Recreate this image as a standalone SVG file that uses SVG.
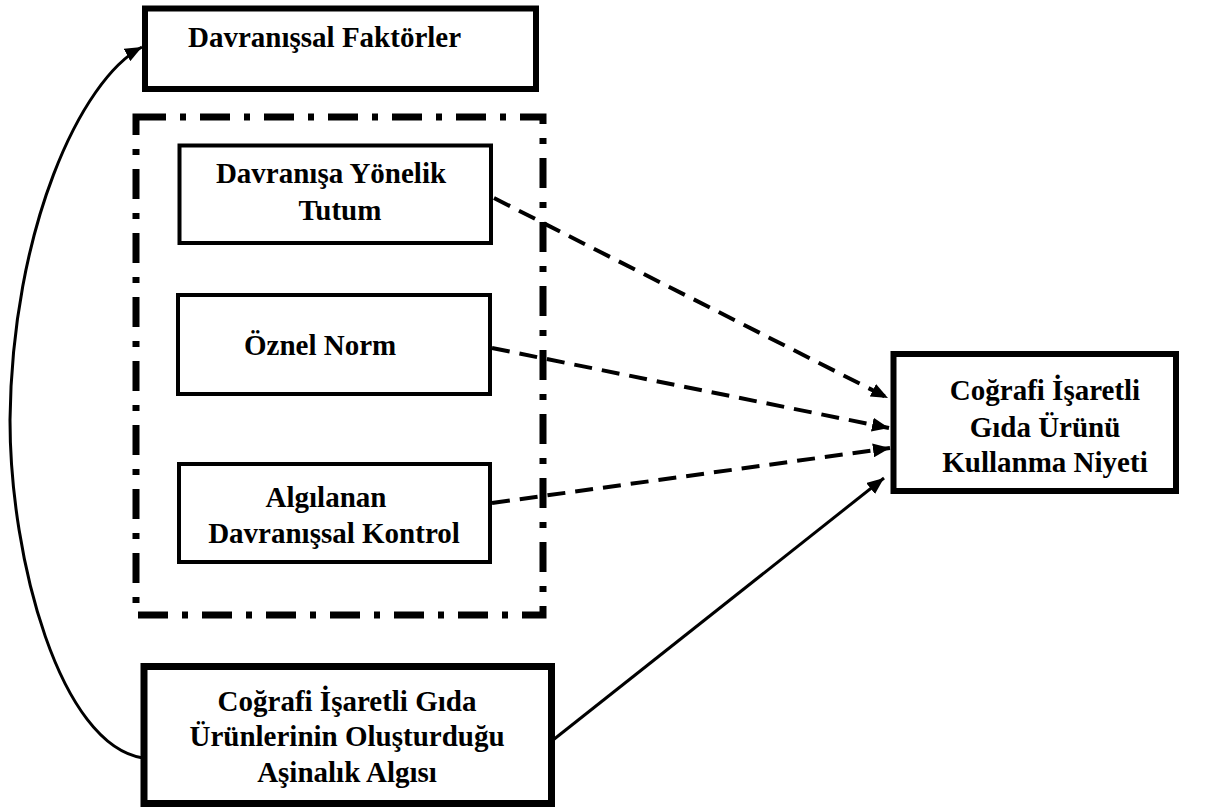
<svg xmlns="http://www.w3.org/2000/svg" width="1221" height="812" viewBox="0 0 1221 812">
<style>
.box{fill:#fff;stroke:#000}
.t{font-family:"Liberation Serif","Times New Roman",serif;font-weight:bold;font-size:29px;fill:#000}
.c{text-anchor:middle}
.dash{fill:none;stroke:#000;stroke-width:4;stroke-dasharray:18 10}
.solid{fill:none;stroke:#000;stroke-width:3}
</style>
<defs>
<marker id="ah" markerUnits="userSpaceOnUse" markerWidth="18" markerHeight="14" refX="17" refY="7" orient="auto">
<path d="M0,0 L17,7 L0,14 z" fill="#000"/>
</marker>
</defs>
<rect width="1221" height="812" fill="#fff"/>
<g id="group-box">
<rect x="136" y="117" width="407" height="498" fill="none" stroke="#000" stroke-width="7" stroke-dasharray="30 14 6 14"/>
</g>
<g id="node-faktorler">
<rect class="box" x="145" y="8.5" width="391" height="80.5" stroke-width="6"/>
<text class="t" x="188" y="47">Davranışsal Faktörler</text>
</g>
<g id="node-tutum">
<rect class="box" x="179.5" y="145.5" width="311.5" height="97.5" stroke-width="4"/>
<text class="t c" x="331" y="183">Davranışa Yönelik</text>
<text class="t c" x="340" y="220">Tutum</text>
</g>
<g id="node-norm">
<rect class="box" x="178" y="295" width="312" height="99" stroke-width="4"/>
<text class="t" x="244" y="355">Öznel Norm</text>
</g>
<g id="node-kontrol">
<rect class="box" x="179" y="464" width="311" height="98" stroke-width="4"/>
<text class="t c" x="326" y="507">Algılanan</text>
<text class="t c" x="334" y="543">Davranışsal Kontrol</text>
</g>
<g id="node-niyet">
<rect class="box" x="893.5" y="354" width="282.5" height="137" stroke-width="6"/>
<text class="t c" x="1045" y="400">Coğrafi İşaretli</text>
<text class="t c" x="1045" y="437">Gıda Ürünü</text>
<text class="t c" x="1045" y="472">Kullanma Niyeti</text>
</g>
<g id="node-asinalik">
<rect class="box" x="144" y="666.5" width="407.5" height="137" stroke-width="7"/>
<text class="t c" x="347" y="711">Coğrafi İşaretli Gıda</text>
<text class="t c" x="347" y="746">Ürünlerinin Oluşturduğu</text>
<text class="t c" x="347" y="782">Aşinalık Algısı</text>
</g>
<g id="connectors">
<line class="dash" x1="494" y1="198" x2="888" y2="398" marker-end="url(#ah)"/>
<line class="dash" x1="492" y1="348" x2="889" y2="428" marker-end="url(#ah)"/>
<line class="dash" x1="492" y1="503" x2="890" y2="448" marker-end="url(#ah)"/>
<line class="solid" x1="553" y1="740" x2="884" y2="478" marker-end="url(#ah)"/>
<path class="solid" d="M143,758 C60,745 10,560 10,420 C12,230 80,80 142,47" marker-end="url(#ah)"/>
</g>
</svg>
